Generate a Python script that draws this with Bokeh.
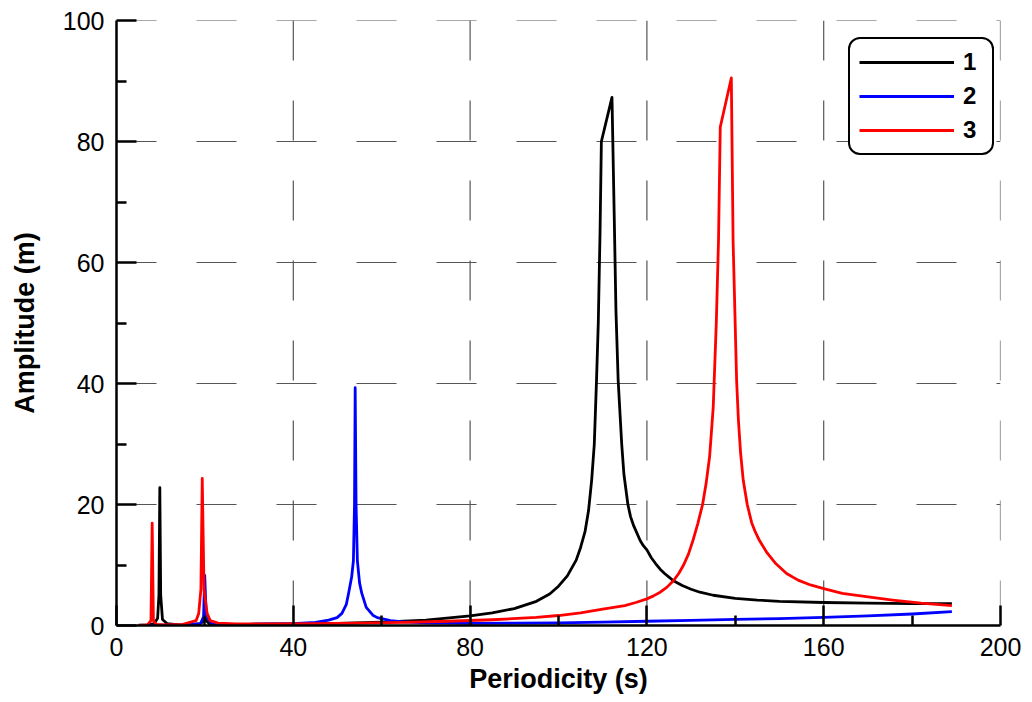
from bokeh.plotting import figure
from bokeh.models import FixedTicker, Legend, LegendItem, Range1d
from bokeh.embed import file_html
from bokeh.resources import INLINE

# ---------------- data ----------------
x_ticks = [0, 40, 80, 120, 160, 200]
x_minor = [20, 60, 100, 140, 180]
y_ticks = [0, 20, 40, 60, 80, 100]
y_minor = [10, 30, 50, 70, 90]

s1_x = [5, 7, 8.5, 9.3, 9.6, 9.8, 10.0, 10.4, 11.5, 14, 17, 19, 19.7, 20.0, 20.3, 21,
        25, 30, 40, 50, 60, 70, 80, 85, 90, 95, 98, 100, 102, 104, 105, 106, 106.8, 107.5,
        108.1, 108.6, 109.0, 109.4, 109.7, 112.1, 112.6, 113.0, 113.5, 114.3, 114.8,
        115.7, 116.3, 117, 118.5, 119.2, 120, 121, 122, 123, 124, 125, 126, 128, 130,
        132, 135, 140, 145, 150, 160, 170, 180, 189]
s1_y = [0.05, 0.1, 0.3, 1.2, 5, 22.8, 5, 1.0, 0.3, 0.1, 0.15, 0.3, 0.8, 1.2, 0.8, 0.3,
        0.15, 0.2, 0.25, 0.35, 0.55, 0.9, 1.6, 2.1, 2.8, 4.0, 5.2, 6.5, 8.2, 10.8, 12.9, 15.5, 19, 24,
        30, 40.5, 50, 65, 80, 87.3, 68, 52, 40.5, 30, 25,
        20, 18, 16.5, 14, 13.2, 12.5, 11.2, 10.2, 9.3, 8.6, 8.0, 7.4, 6.6, 6.0,
        5.5, 5.0, 4.5, 4.2, 4.0, 3.8, 3.7, 3.6, 3.6]

s2_x = [5, 10, 15, 19, 19.7, 19.96, 20.3, 21.5, 25, 30, 35, 40, 45, 48, 49.9, 51, 52,
        52.5, 53.2, 53.6, 53.85, 54.0, 54.2, 54.5, 55, 55.5, 56.5, 58, 59, 62, 65, 70,
        80, 90, 100, 110, 120, 130, 140, 150, 160, 170, 180, 189]
s2_y = [0.0, 0.05, 0.1, 0.3, 1.5, 8.3, 1.5, 0.4, 0.2, 0.2, 0.25, 0.3, 0.5, 0.9, 1.3, 2.0, 3.5,
        5.3, 8, 10.7, 20, 39.3, 20, 10.7, 7, 5.3, 3.0, 1.7, 1.3, 0.8, 0.6, 0.45,
        0.35, 0.38, 0.45, 0.55, 0.7, 0.85, 1.0, 1.15, 1.35, 1.6, 1.9, 2.3]

s3_x = [5, 7, 7.8, 8.07, 8.35, 9, 11, 15, 18, 18.6, 19.1, 19.4, 19.8, 20.5, 21.2, 23, 27,
        35, 45, 55, 65, 75, 85, 95, 100, 105, 110, 115, 117.5, 120, 121.5, 123, 124.5,
        126, 127.2, 128.3, 129.4, 130.4, 131.5, 132.6, 133.4, 134.2, 135.0, 135.7, 136.2,
        136.6, 139.1, 139.5, 140.3, 140.7, 141.2, 141.8, 142.7, 143.7, 144.5, 145.5,
        147.2, 149.2, 151.6, 154.2, 157, 160, 164.2, 169.2, 175.6, 182, 189]
s3_y = [0.0, 0.1, 0.8, 16.9, 0.8, 0.2, 0.1, 0.2, 0.8, 2.0, 6, 24.3, 6, 2.0, 0.8, 0.4, 0.25,
        0.25, 0.3, 0.4, 0.5, 0.7, 0.95, 1.35, 1.65, 2.1, 2.7, 3.3, 3.8, 4.4, 4.9, 5.5, 6.3,
        7.4, 8.6, 10, 11.8, 14, 16.8, 20, 23.5, 28, 36, 50, 63.6,
        82.4, 90.5, 63.6, 40.5, 34, 28.5, 24, 20, 17, 15.5, 14,
        12, 10.2, 8.6, 7.5, 6.7, 6.1, 5.3, 4.8, 4.2, 3.7, 3.3]

series_labels = ["1", "2", "3"]
series_colors = ["#000000", "#0000ff", "#ff0000"]

FONT = "Liberation Sans"

p = figure(width=1032, height=702,
           x_range=Range1d(0, 200), y_range=Range1d(0, 100),
           output_backend="svg", toolbar_location=None,
           min_border_left=116, min_border_right=32,
           min_border_top=20, min_border_bottom=77)
p.outline_line_color = None
p.background_fill_color = "white"
p.border_fill_color = "white"
p.xgrid.visible = False
p.ygrid.visible = False

# dashed grid, drawn top-down / left-right
gx = [t for t in x_ticks if t > 0]
gy = [t for t in y_ticks if t > 0]
p.segment(x0=gx, y0=[100] * len(gx), x1=gx, y1=[0] * len(gx),
          line_color="#555555", line_width=1.2, line_dash="40 40")
p.segment(x0=[0] * len(gy), y0=gy, x1=[200] * len(gy), y1=gy,
          line_color="#555555", line_width=1.2, line_dash="40 40")

renderers = []
for xs, ys, c in zip([s1_x, s2_x, s3_x], [s1_y, s2_y, s3_y], series_colors):
    r = p.line(xs, ys, line_color=c, line_width=2.8, line_join="round")
    renderers.append(r)

for ax, ticks, minor, label, stand in [(p.xaxis[0], x_ticks, x_minor, "Periodicity (s)", 5),
                                       (p.yaxis[0], y_ticks, y_minor, "Amplitude (m)", 20)]:
    ax.ticker = FixedTicker(ticks=ticks, minor_ticks=minor)
    ax.axis_line_width = 2.5
    ax.axis_line_color = "black"
    ax.major_tick_line_width = 2.5
    ax.minor_tick_line_width = 2.5
    ax.major_tick_line_color = "black"
    ax.minor_tick_line_color = "black"
    ax.major_tick_in = 20
    ax.major_tick_out = 0
    ax.minor_tick_in = 10
    ax.minor_tick_out = 0
    ax.major_label_text_font = FONT
    ax.major_label_text_font_size = "25px"
    ax.major_label_text_color = "black"
    ax.major_label_standoff = 12
    ax.axis_label = label
    ax.axis_label_text_font = FONT
    ax.axis_label_text_font_size = "27px"
    ax.axis_label_text_font_style = "bold"
    ax.axis_label_text_color = "black"
    ax.axis_label_standoff = stand

items = [LegendItem(label=l, renderers=[r]) for l, r in zip(series_labels, renderers)]
legend = Legend(items=items, location=(732, 470))
legend.border_line_color = "black"
legend.border_line_width = 2.5
legend.border_line_alpha = 1
legend.background_fill_color = "white"
legend.background_fill_alpha = 1
legend.label_text_font = FONT
legend.label_text_font_style = "bold"
legend.label_text_font_size = "24px"
legend.label_text_color = "black"
legend.glyph_width = 95
legend.glyph_height = 20
legend.label_height = 20
legend.label_width = 20
legend.spacing = 6
legend.padding = 9
legend.margin = 0
legend.label_standoff = 9
if "border_radius" in Legend.properties():
    legend.border_radius = 12
p.add_layout(legend)

open("out.html", "w").write(file_html(p, INLINE))
